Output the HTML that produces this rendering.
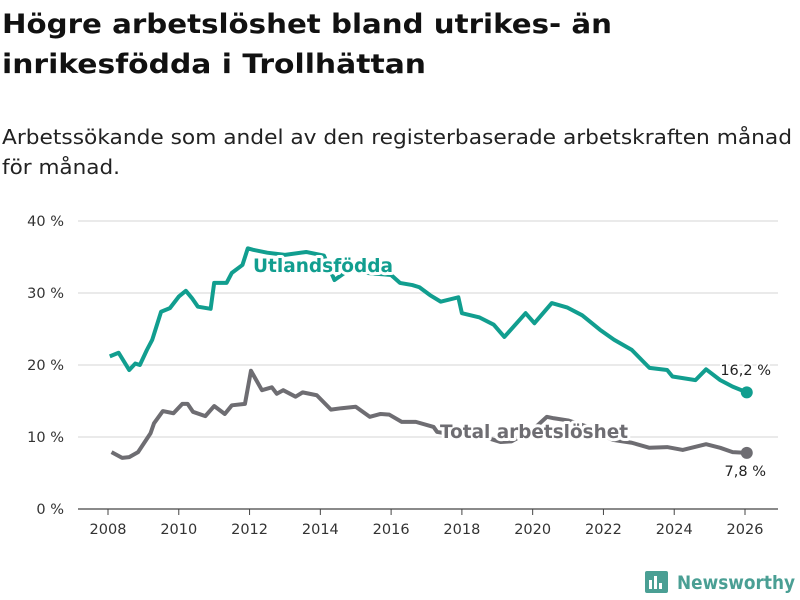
<!DOCTYPE html>
<html><head><meta charset="utf-8"><style>
body{margin:0;background:#fff;}
svg{display:block;font-family:"DejaVu Sans","Liberation Sans",sans-serif;}
</style></head><body>
<svg id="chart" width="800" height="600" viewBox="0 0 800 600">
<text x="2" y="33" font-size="27" font-weight="bold" fill="#111" textLength="610" lengthAdjust="spacingAndGlyphs">Högre arbetslöshet bland utrikes- än</text>
<text x="2" y="73" font-size="27" font-weight="bold" fill="#111" textLength="424" lengthAdjust="spacingAndGlyphs">inrikesfödda i Trollhättan</text>
<text x="2" y="144" font-size="20" fill="#222" textLength="790" lengthAdjust="spacingAndGlyphs">Arbetssökande som andel av den registerbaserade arbetskraften månad</text>
<text x="2" y="174" font-size="20" fill="#222" textLength="118" lengthAdjust="spacingAndGlyphs">för månad.</text>
<g id="grid"></g><g id="xaxis"></g><g id="series"></g><g id="labels"></g>
<g>
<rect x="645" y="571" width="23" height="22" rx="2" fill="#4a9f94"/>
<rect x="649" y="580" width="3" height="9" fill="#fff"/><rect x="654" y="576" width="3" height="13" fill="#fff"/><rect x="659" y="583" width="3" height="6" fill="#fff"/>
<text x="677" y="589" font-size="19" font-weight="bold" fill="#4a9f94" textLength="118" lengthAdjust="spacingAndGlyphs">Newsworthy</text>
</g>
</svg>
<script>
const yTicks=[0,10,20,30,40];
const xTicks=[2008,2010,2012,2014,2016,2018,2020,2022,2024,2026];
const forYears=[2008.05,2008.3,2008.6,2008.77,2008.9,2009.1,2009.25,2009.5,2009.75,2010.0,2010.2,2010.37,2010.54,2010.9,2011.0,2011.35,2011.5,2011.8,2011.95,2012.1,2012.5,2013.0,2013.6,2014.1,2014.4,2014.8,2015.3,2016.0,2016.25,2016.6,2016.8,2017.1,2017.4,2017.9,2018.0,2018.5,2018.9,2019.2,2019.8,2020.05,2020.54,2020.97,2021.4,2021.9,2022.3,2022.8,2023.3,2023.8,2023.95,2024.6,2024.9,2025.3,2025.65,2026.05];
const forVals=[21.2,21.7,19.3,20.2,20.0,22.1,23.5,27.4,27.9,29.5,30.3,29.3,28.1,27.8,31.4,31.4,32.8,33.9,36.2,36.0,35.6,35.3,35.7,35.2,31.8,33.2,32.8,32.5,31.4,31.1,30.8,29.7,28.8,29.4,27.2,26.6,25.6,23.9,27.2,25.8,28.6,28.0,26.9,24.9,23.5,22.1,19.6,19.3,18.4,17.9,19.4,17.9,17.0,16.2];
const totYears=[2008.1,2008.4,2008.6,2008.85,2009.2,2009.3,2009.55,2009.85,2010.1,2010.25,2010.4,2010.75,2011.0,2011.3,2011.5,2011.87,2012.04,2012.35,2012.63,2012.77,2012.95,2013.3,2013.5,2013.9,2014.3,2014.6,2015.0,2015.4,2015.7,2015.95,2016.3,2016.7,2017.2,2017.3,2017.8,2018.7,2019.1,2019.4,2020.0,2020.4,2020.6,2021.0,2021.5,2022.0,2022.27,2022.8,2023.3,2023.8,2024.24,2024.9,2025.3,2025.65,2026.05];
const totVals=[7.9,7.1,7.2,7.9,10.5,11.9,13.6,13.3,14.6,14.6,13.5,12.9,14.3,13.2,14.4,14.6,19.2,16.5,16.9,16.0,16.5,15.6,16.2,15.8,13.8,14.0,14.2,12.8,13.2,13.1,12.1,12.1,11.4,10.7,10.3,9.9,9.3,9.4,11.0,12.8,12.6,12.3,11.5,10.2,9.6,9.2,8.5,8.6,8.2,9.0,8.5,7.9,7.8];
const NS="http://www.w3.org/2000/svg";
const X=y=>108+(y-2008)*(745-108)/18;
const Y=v=>509-v*7.2;
function mk(tag,attrs,parent){const e=document.createElementNS(NS,tag);for(const k in attrs)e.setAttribute(k,attrs[k]);parent.appendChild(e);return e;}
const grid=document.getElementById('grid');
yTicks.forEach(t=>{
 if(t>0){const l=mk('line',{x1:78,x2:778,y1:Y(t),y2:Y(t),stroke:'#ddd','stroke-width':1.2},grid);
 
 }
 const tx=mk('text',{x:64,y:Y(t)+5,'text-anchor':'end','font-size':14.5,fill:'#333'},grid);tx.textContent=t+' %';
 
 
});
const xa=document.getElementById('xaxis');
const ax=mk('line',{x1:78,x2:778,y1:509,y2:509,stroke:'#444','stroke-width':1.2},xa);


xTicks.forEach(t=>{
 mk('line',{x1:X(t),x2:X(t),y1:509,y2:515,stroke:'#444'},xa);
 const tx=mk('text',{x:X(t),y:534,'text-anchor':'middle','font-size':14.5,fill:'#333'},xa);tx.textContent=t;
 
 
});
const sg=document.getElementById('series');
function line(ys,vs,col,name){
 const p=mk('polyline',{points:ys.map((y,i)=>X(y)+','+Y(vs[i])).join(' '),fill:'none',stroke:col,'stroke-width':4,'stroke-linejoin':'round'},sg);
 
 
 const c=mk('circle',{cx:X(ys[ys.length-1]),cy:Y(vs[vs.length-1]),r:6,fill:col},sg);
 
 
}
line(totYears,totVals,'#6e6d72','total');
line(forYears,forVals,'#119e8f','utlandsfodda');
const lg=document.getElementById('labels');
function lab(x,y,txt,col,name,size,bold,anchor,len){
 const a={x:x,y:y,'font-size':size,'font-weight':bold?'bold':'normal',fill:col,stroke:'#fff','stroke-width':bold?6:4,'paint-order':'stroke','stroke-linejoin':'round','text-anchor':anchor||'start'};
 if(len){a.textLength=len;a.lengthAdjust='spacingAndGlyphs';}
 const t=mk('text',a,lg);
 t.textContent=txt;
 
 
}
lab(253,272,'Utlandsfödda','#119e8f','utlandsfodda-label',19,true,'start',140);
lab(440,438,'Total arbetslöshet','#6e6d72','total-label',19,true,'start',188);
lab(771,375,'16,2 %','#222','utlandsfodda-end-value',14.5,false,'end');
lab(766,476,'7,8 %','#222','total-end-value',14.5,false,'end');
</script>
</body></html>
